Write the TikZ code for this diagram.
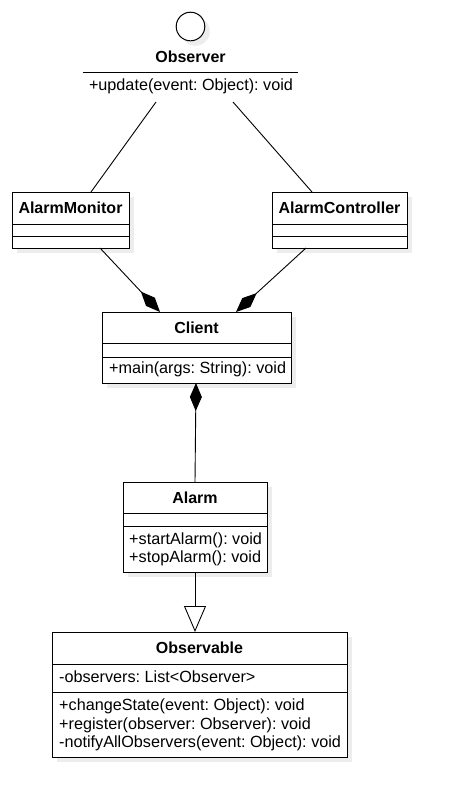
\documentclass[tikz,border=0pt]{standalone}
\usepackage{fontspec}
\setmainfont{Liberation Sans}
\usetikzlibrary{arrows.meta}
\frenchspacing
\tikzset{
  umlbox/.style={draw=black, line width=1pt, fill=white, rectangle, inner sep=0pt, anchor=north west},
  shadowbox/.style={fill=black!7, draw=none, rectangle, inner sep=0pt, anchor=north west},
  cname/.style={font=\fontsize{16}{18}\selectfont\bfseries, inner sep=0pt, text height=11.5pt, text depth=0pt},
  member/.style={font=\fontsize{16.2}{18.5}\selectfont, inner sep=0pt, anchor=west, text height=11.6pt, text depth=0pt},
  conn/.style={line width=0.9pt, draw=black},
  compo/.style={conn, -{Diamond[length=28pt,width=12pt,fill=black]}},
  inherit/.style={conn, -{Triangle[open,length=26pt,width=22pt,fill=white]}}
}
\begin{document}
\begin{tikzpicture}[x=1pt,y=-1pt]
\useasboundingbox[fill=white] (0,0) rectangle (456,807);

% Observer (interface, lollipop)
\fill[black!7] (195.5,31.5) circle (14.3);
\node[circle, draw=black, line width=1pt, fill=white, minimum size=28.6pt, inner sep=0pt] (obscirc) at (190.5,26.5) {};
\node[cname] (obsname) at (190.5,57) {Observer};
\node[inner sep=0pt, minimum width=215pt, minimum height=0pt] (obsline) at (190.5,72) {};
\draw[line width=1pt] (obsline.west) -- (obsline.east);
\node[member, anchor=center] (obsop) at (191,85) {+update(event: Object): void};
\coordinate (obsL) at (156,102);
\coordinate (obsR) at (233,102);

% shadows
\node[shadowbox, minimum width=117pt, minimum height=56pt] at (17,197) {};
\node[shadowbox, minimum width=135pt, minimum height=56pt] at (277,197) {};
\node[shadowbox, minimum width=189pt, minimum height=71pt] at (107,317) {};
\node[shadowbox, minimum width=144pt, minimum height=90pt] at (128,487) {};
\node[shadowbox, minimum width=295pt, minimum height=125pt] at (57,637) {};

% AlarmMonitor
\node[umlbox, minimum width=117pt, minimum height=56pt] (am) at (12,192) {};
\draw[line width=1pt] (12,224) -- (129,224) (12,236) -- (129,236);
\node[cname] (amname) at (70.5,208) {AlarmMonitor};
\coordinate (amT) at (91,192);
\coordinate (amB) at (100,248);

% AlarmController
\node[umlbox, minimum width=135pt, minimum height=56pt] (ac) at (272,192) {};
\draw[line width=1pt] (272,224) -- (407,224) (272,236) -- (407,236);
\node[cname] (acname) at (339.5,208) {AlarmController};
\coordinate (acT) at (312,192);
\coordinate (acB) at (306,248);

% Client
\node[umlbox, minimum width=189pt, minimum height=71pt] (cl) at (102,312) {};
\draw[line width=1pt] (102,343) -- (291,343) (102,357) -- (291,357);
\node[cname] (clname) at (196.5,327.5) {Client};
\node[member] (clop) at (109,368) {+main(args: String): void};
\coordinate (clTL) at (160,312);
\coordinate (clTR) at (236,312);
\coordinate (clB) at (196,383);

% Alarm
\node[umlbox, minimum width=144pt, minimum height=90pt] (al) at (123,482) {};
\draw[line width=1pt] (123,513) -- (267,513) (123,526) -- (267,526);
\node[cname] (alname) at (195,497.5) {Alarm};
\node[member] (alop1) at (129,538.5) {+startAlarm(): void};
\node[member] (alop2) at (129,557) {+stopAlarm(): void};
\coordinate (alT) at (195,482);
\coordinate (alB) at (195,572);

% Observable
\node[umlbox, minimum width=295pt, minimum height=125pt] (ob) at (52,632) {};
\draw[line width=1pt] (52,664) -- (347,664) (52,692) -- (347,692);
\node[cname] (obname) at (199.5,648) {Observable};
\node[member] (obat) at (59,677) {-observers: List<Observer>};
\node[member] (obop1) at (59,705) {+changeState(event: Object): void};
\node[member] (obop2) at (59,723.5) {+register(observer: Observer): void};
\node[member] (obop3) at (59,742) {-notifyAllObservers(event: Object): void};
\coordinate (obT) at (195,632);

% connectors
\draw[conn] (obsL) -- (amT);
\draw[conn] (obsR) -- (acT);
\draw[compo] (amB) -- (clTL);
\draw[compo] (acB) -- (clTR);
\draw[compo] (alT) -- (clB);
\draw[inherit] (alB) -- (obT);
\end{tikzpicture}
\end{document}
